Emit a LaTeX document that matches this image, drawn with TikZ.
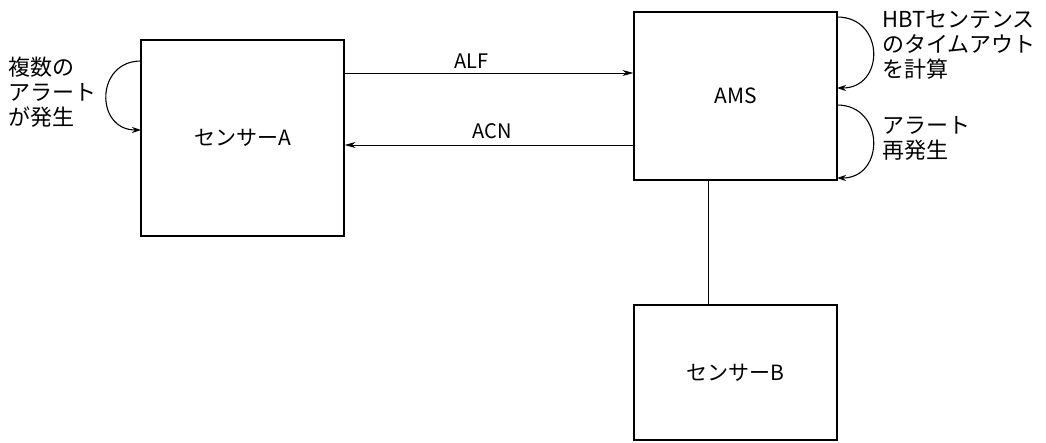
\documentclass[tikz,border=0pt]{standalone}
\usepackage{fontspec}
\setmainfont{Noto Sans CJK JP}
\usepackage{tikz}
\usetikzlibrary{arrows.meta,positioning,calc}

\begin{document}
\begin{tikzpicture}[
    x=1pt, y=-1pt,
    box/.style={draw, line width=1.2pt, minimum width=203pt, font=\fontsize{21}{24}\selectfont},
    msg/.style={-{Stealth[length=11pt,width=6pt]}, line width=1pt},
    loop/.style={-{Stealth[length=9pt,width=6pt]}, line width=1.1pt},
    lbl/.style={font=\fontsize{20}{22}\selectfont},
    note/.style={align=left, anchor=north west, inner sep=0pt, font=\fontsize{22}{25}\selectfont}
  ]
  \useasboundingbox (0,0) rectangle (1046,442);
  \node[box, minimum height=196pt] (sensa) at (242.5,138) {センサーA};
  \node[box, minimum height=168pt] (ams) at (735.5,96) {AMS};
  \node[box, minimum height=135pt] (sensb) at (735.5,372.5) {センサーB};

  % messages
  \coordinate (alf) at (0,73);
  \coordinate (acn) at (0,145);
  \draw[msg] (sensa.east |- alf) -- node[above=1pt, pos=0.44, lbl] {ALF} (ams.west |- alf);
  \draw[msg] (ams.west |- acn) -- node[above=2pt, pos=0.49, lbl] {ACN} (sensa.east |- acn);
  \coordinate (tap) at (708,0);
  \draw[line width=1pt] (ams.south -| tap) -- (sensb.north -| tap);

  % self loops
  \draw[loop] (141,61) .. controls (95,61) and (95,130) .. (141,130);
  \draw[loop] (837,17) .. controls (885,17) and (885,88) .. (837,88);
  \draw[loop] (837,105) .. controls (885,105) and (885,178) .. (837,178);

  \node[note] (multi) at (8,57) {複数の\\アラート\\が発生};
  \node[note] (hbt) at (882,10) {HBTセンテンス\\のタイムアウト\\を計算};
  \node[note] (realert) at (882,116) {アラート\\再発生};
\end{tikzpicture}
\end{document}
